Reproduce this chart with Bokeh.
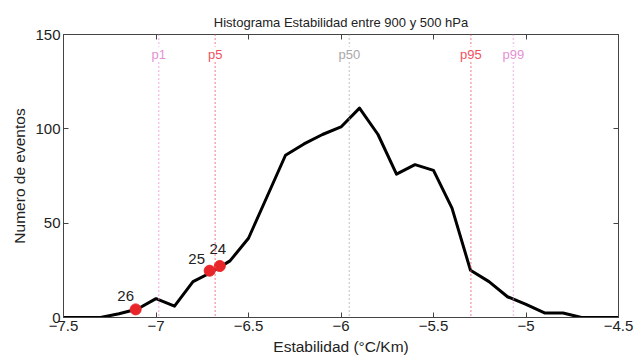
from bokeh.plotting import figure
from bokeh.models import Span, LinearAxis, FixedTicker, CustomJSTickFormatter, Range1d, ColumnDataSource, Label
from bokeh.core.properties import value
from bokeh.embed import file_html
from bokeh.resources import INLINE

# ---- data ----
estabilidad = [-7.5, -7.4, -7.3, -7.2, -7.1, -7.0, -6.9, -6.8, -6.7, -6.6, -6.5,
               -6.4, -6.3, -6.2, -6.1, -6.0, -5.9, -5.8, -5.7, -5.6, -5.5,
               -5.4, -5.3, -5.2, -5.1, -5.0, -4.9, -4.8, -4.7, -4.6, -4.5]
eventos = [0, 0, 0, 2, 4.5, 10, 6, 19, 24, 30, 42,
           64, 86, 92, 97, 101, 111, 97, 76, 81, 78,
           58, 25, 19, 11, 7, 2.4, 2.4, 0, 0, 0]

casos_x = [-7.11, -6.71, -6.655]
casos_y = [4.3, 24.8, 27.3]
casos_lbl = ["26", "25", "24"]
lbl_dx = [-10, -13, -2]
lbl_dy = [-13, -12, -17]

pct_names = ["p1", "p5", "p50", "p95", "p99"]
pct_values = [-6.985, -6.68, -5.955, -5.298, -5.068]
pct_colors = ["#e690d4", "#f0505e", "#a8a8a8", "#f0505e", "#e690d4"]

x_ticks = [-7.5, -7, -6.5, -6, -5.5, -5, -4.5]
y_ticks = [0, 50, 100, 150]

FONT = "Liberation Sans"

p = figure(width=640, height=364, output_backend="svg", toolbar_location=None,
           x_range=Range1d(-7.5, -4.5), y_range=Range1d(0, 150),
           min_border_left=63, min_border_right=22, min_border_top=34, min_border_bottom=47,
           title="Histograma Estabilidad entre 900 y 500 hPa")
p.title.align = "center"
p.title.text_font = FONT
p.title.text_font_size = "13px"
p.title.text_font_style = "normal"
p.title.text_color = "#222222"
p.grid.visible = False
p.outline_line_color = "#444444"
p.outline_line_width = 1
p.background_fill_color = "white"
p.border_fill_color = "white"

fmt = CustomJSTickFormatter(code="return (tick < 0 ? '\u2212' : '') + Math.abs(tick).toString();")
blank = CustomJSTickFormatter(code="return '';")

for ax in p.xaxis:
    ax.ticker = FixedTicker(ticks=x_ticks)
    ax.formatter = fmt
    ax.axis_label = "Estabilidad (°C/Km)"
for ax in p.yaxis:
    ax.ticker = FixedTicker(ticks=y_ticks)
    ax.axis_label = "Numero de eventos"

for ax in p.xaxis + p.yaxis:
    ax.major_tick_in = 5
    ax.major_tick_out = 0
    ax.minor_tick_line_color = None
    ax.axis_line_color = "#444444"
    ax.major_tick_line_color = "#444444"
    ax.major_label_text_font = FONT
    ax.major_label_text_font_size = "15px"
    ax.major_label_text_color = "#222222"
    ax.axis_label_text_font = FONT
    ax.axis_label_text_font_size = "15.5px"
    ax.axis_label_text_font_style = "normal"
    ax.axis_label_text_color = "#222222"
    ax.major_label_standoff = 3
    ax.axis_label_standoff = 4

top_ax = LinearAxis(ticker=FixedTicker(ticks=x_ticks), formatter=blank,
                    major_tick_in=5, major_tick_out=0, minor_tick_line_color=None,
                    axis_line_color=None, major_tick_line_color="#444444", major_label_standoff=0)
right_ax = LinearAxis(ticker=FixedTicker(ticks=y_ticks), formatter=blank,
                      major_tick_in=5, major_tick_out=0, minor_tick_line_color=None,
                      axis_line_color=None, major_tick_line_color="#444444", major_label_standoff=0)
p.add_layout(top_ax, "above")
p.add_layout(right_ax, "right")

for name, v, c in zip(pct_names, pct_values, pct_colors):
    p.add_layout(Span(location=v, dimension="height", line_color=c,
                      line_dash="1 3", line_width=1.5))
    p.add_layout(Label(x=v, y=139.5, text=name, text_align="center", text_baseline="middle",
                       text_color=c, text_font=FONT, text_font_size="13px",
                       background_fill_color="white"))

p.line(estabilidad, eventos, line_color="black", line_width=3, line_join="round")

src = ColumnDataSource(dict(x=casos_x, y=casos_y, t=casos_lbl, dx=lbl_dx, dy=lbl_dy))
p.scatter("x", "y", source=src, size=11, fill_color="#e8262a", line_color="#e8262a")
p.text("x", "y", text="t", source=src, x_offset="dx", y_offset="dy",
       text_align="center", text_baseline="middle", text_font=value(FONT),
       text_font_size="15px", text_color="#222222")

open("out.html", "w").write(file_html(p, INLINE))
